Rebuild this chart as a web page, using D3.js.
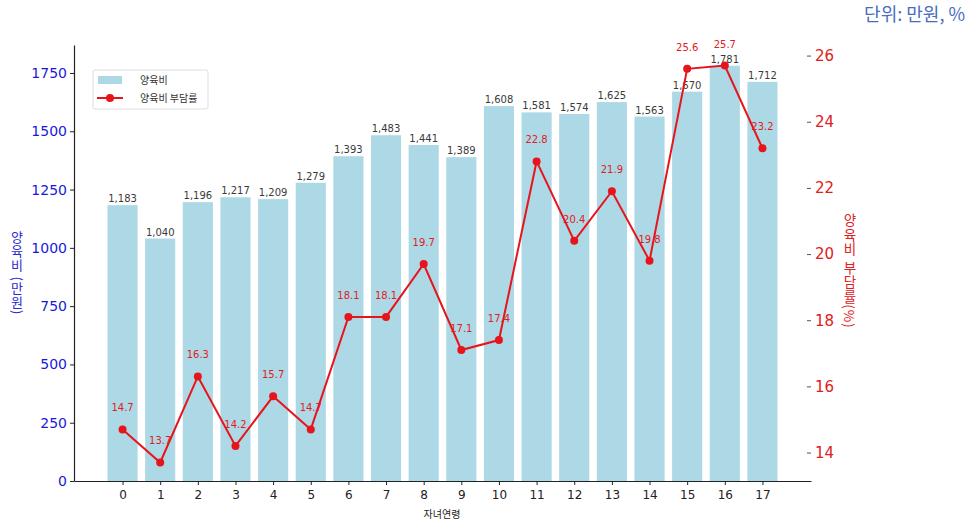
<!DOCTYPE html>
<html><head><meta charset="utf-8">
<script src="https://cdn.jsdelivr.net/npm/d3@7"></script>
<style>body{margin:0;background:#fff;} svg{display:block;}</style>
</head><body>
<svg id="c" width="975" height="523"></svg>
<script>
const ages = [0,1,2,3,4,5,6,7,8,9,10,11,12,13,14,15,16,17];
const costs = [1183,1040,1196,1217,1209,1279,1393,1483,1441,1389,1608,1581,1574,1625,1563,1670,1781,1712];
const rates = [14.7,13.7,16.3,14.2,15.7,14.7,18.1,18.1,19.7,17.1,17.4,22.8,20.4,21.9,19.8,25.6,25.7,23.2];
const leftTicks = [0,250,500,750,1000,1250,1500,1750];
const rightTicks = [14,16,18,20,22,24,26];

const svg = d3.select("#c");
const L = 74, R = 811, T = 45, B = 481;
const x = d3.scaleLinear().domain([-1.29, 18.29]).range([L, R]);
const yL = d3.scaleLinear().domain([0, 1870]).range([B, T]);
const yR = d3.scaleLinear().domain([13.14, 26.32]).range([B, T]);
const bw = x(0.4) - x(-0.4);
const tickFont = "DejaVu Sans, sans-serif";
const kFont = "'Noto Sans CJK KR', sans-serif";

// bars
svg.append("g").selectAll("rect").data(ages).join("rect")
  .attr("x", (d) => x(d) - bw/2).attr("width", bw)
  .attr("y", (d,i) => yL(costs[i])).attr("height", (d,i) => B - yL(costs[i]))
  .attr("fill", "#add8e6");

// bar labels
svg.append("g").selectAll("text").data(ages).join("text")
  .attr("x", d => x(d)).attr("y", (d,i) => yL(costs[i]) - 3)
  .attr("text-anchor", "middle").attr("font-family", tickFont).attr("font-size", 10)
  .attr("fill", "#3a3a3a").text((d,i) => d3.format(",")(costs[i]));

// axes
const gx = svg.append("g").attr("transform", `translate(0,${B})`)
  .call(d3.axisBottom(x).tickValues(ages).tickFormat(d3.format("d")).tickSize(4).tickSizeOuter(0));
gx.select(".domain").attr("stroke", "#222").attr("stroke-width", 1.2);
gx.selectAll("text").attr("font-family", tickFont).attr("font-size", 12).attr("fill", "#222").attr("dy", "0.9em");
gx.selectAll(".tick line").attr("stroke", "#222");

const gl = svg.append("g").attr("transform", `translate(${L},0)`)
  .call(d3.axisLeft(yL).tickValues(leftTicks).tickFormat(d3.format("d")).tickSize(4).tickSizeOuter(0));
gl.select(".domain").attr("stroke", "#222").attr("stroke-width", 1.2);
gl.selectAll("text").attr("font-family", tickFont).attr("font-size", 14).attr("fill", "#1a1adb");
gl.selectAll(".tick line").attr("stroke", "#222");

const gr = svg.append("g").attr("transform", `translate(${R - 4},0)`)
  .call(d3.axisRight(yR).tickValues(rightTicks).tickSize(4).tickSizeOuter(0));
gr.select(".domain").remove();
gr.selectAll("text").attr("font-family", tickFont).attr("font-size", 15).attr("fill", "#e02020").attr("x", 8);
gr.selectAll(".tick line").attr("stroke", "#555");

// line
const line = d3.line().x((d,i) => x(ages[i])).y(d => yR(d));
svg.append("path").datum(rates).attr("d", line)
  .attr("fill", "none").attr("stroke", "#e8141b").attr("stroke-width", 2);
svg.append("g").selectAll("circle").data(rates).join("circle")
  .attr("cx", (d,i) => x(ages[i])).attr("cy", d => yR(d)).attr("r", 4)
  .attr("fill", "#e8141b");
svg.append("g").selectAll("text").data(rates).join("text")
  .attr("x", (d,i) => x(ages[i])).attr("y", d => yR(d) - 18)
  .attr("text-anchor", "middle").attr("font-family", tickFont).attr("font-size", 10)
  .attr("fill", "#e02020").text(d => d3.format(".1f")(d));

// axis titles (vertical writing)
svg.append("text").attr("x", 17).attr("y", 273)
  .style("writing-mode", "vertical-rl").style("letter-spacing", "1px")
  .attr("text-anchor", "middle").attr("font-family", kFont).attr("font-size", 13)
  .attr("fill", "#2a2ad0").text("양육비 (만원)");
svg.append("text").attr("x", 850).attr("y", 271)
  .style("writing-mode", "vertical-rl").style("letter-spacing", "1px")
  .attr("text-anchor", "middle").attr("font-family", kFont).attr("font-size", 13.5)
  .attr("fill", "#e02020").text("양육비 부담률(%)");
svg.append("text").attr("x", 442).attr("y", 518)
  .attr("text-anchor", "middle").attr("font-family", kFont).attr("font-size", 10)
  .attr("fill", "#222").text("자녀연령");
svg.append("text").attr("x", 965).attr("y", 21)
  .attr("text-anchor", "end").attr("font-family", kFont).attr("font-size", 18)
  .attr("fill", "#4a6cc0").text("단위: 만원, %");

// legend
const lg = svg.append("g").attr("transform", "translate(93,70)");
lg.append("rect").attr("width", 115).attr("height", 39).attr("rx", 2)
  .attr("fill", "#fff").attr("stroke", "#ddd");
lg.append("rect").attr("x", 5).attr("y", 6).attr("width", 24).attr("height", 8).attr("fill", "#add8e6");
lg.append("line").attr("x1", 4).attr("x2", 30).attr("y1", 28).attr("y2", 28)
  .attr("stroke", "#e8141b").attr("stroke-width", 2);
lg.append("circle").attr("cx", 17).attr("cy", 28).attr("r", 4).attr("fill", "#e8141b");
lg.append("text").attr("x", 47).attr("y", 14).attr("font-family", kFont).attr("font-size", 10)
  .attr("fill", "#333").text("양육비");
lg.append("text").attr("x", 47).attr("y", 32).attr("font-family", kFont).attr("font-size", 10)
  .attr("fill", "#333").text("양육비 부담률");
</script>
</body></html>
